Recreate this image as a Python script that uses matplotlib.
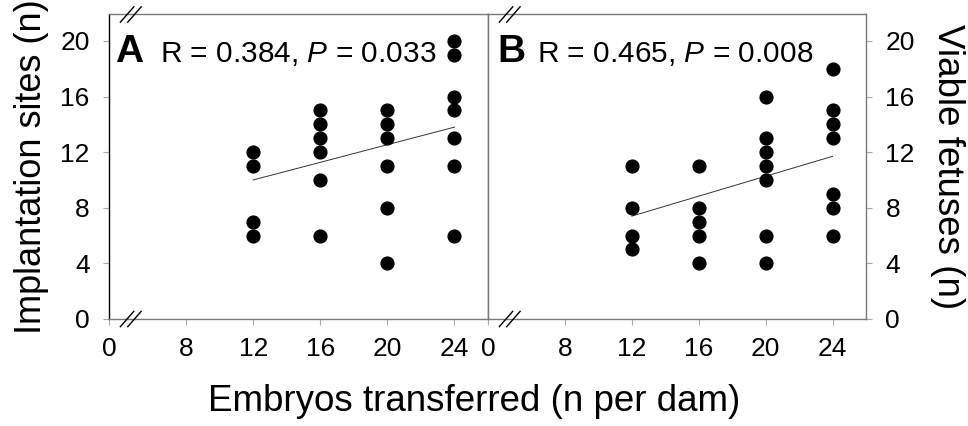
import numpy as np
import matplotlib.pyplot as plt

plt.rcParams['font.family'] = ['Liberation Sans', 'DejaVu Sans']
plt.rcParams['mathtext.fontset'] = 'custom'
plt.rcParams['mathtext.rm'] = 'Liberation Sans'
plt.rcParams['mathtext.it'] = 'Liberation Sans:italic'

# embryos transferred per dam and outcome counts per dam
implant_x = [12, 12, 12, 12, 16, 16, 16, 16, 16, 16, 20, 20, 20, 20, 20, 20,
             24, 24, 24, 24, 24, 24, 24]
implant_n = [12, 11, 7, 6, 15, 14, 13, 12, 10, 6, 15, 14, 13, 11, 8, 4,
             20, 19, 16, 15, 13, 11, 6]

viable_x = [12, 12, 12, 12, 16, 16, 16, 16, 16, 20, 20, 20, 20, 20, 20, 20,
            24, 24, 24, 24, 24, 24, 24]
viable_n = [11, 8, 6, 5, 11, 8, 7, 6, 4, 16, 13, 12, 11, 10, 6, 4,
            18, 15, 14, 13, 9, 8, 6]

# regression lines
fit_x = [12, 24]
implant_fit = [10.0, 13.8]
viable_fit = [7.4, 11.7]

stats = [('A', 'R = 0.384, $P$ = 0.033'), ('B', 'R = 0.465, $P$ = 0.008')]

# broken x axis: "0" is drawn just left of the break
x_zero = 3.4
x_break = 4.7
xticks = [x_zero, 8, 12, 16, 20, 24]
xtick_labels = ['0', '8', '12', '16', '20', '24']
yticks = [0, 4, 8, 12, 16, 20]
xlim = (x_zero, 26)
ylim = (0, 21.9)

frame = '#777777'


def draw_break(ax, xb, yb):
    for off in (-0.22, 0.22):
        ax.plot([xb + off - 0.4, xb + off + 0.4], [yb - 0.55, yb + 0.55],
                color='black', lw=1.0, clip_on=False, zorder=5)


fig = plt.figure(figsize=(9.68, 4.26), dpi=100)
ax_a = fig.add_axes([0.1126, 0.2512, 0.3915, 0.7148])
ax_b = fig.add_axes([0.5041, 0.2512, 0.3905, 0.7148])

panels = [(ax_a, implant_x, implant_n, implant_fit),
          (ax_b, viable_x, viable_n, viable_fit)]

for i, (ax, xs, ys, fit) in enumerate(panels):
    ax.plot(xs, ys, 'o', color='black', markersize=9.2, zorder=3)
    ax.plot(fit_x, fit, color='#333333', lw=0.7, zorder=2)

    ax.set_xlim(*xlim)
    ax.set_ylim(*ylim)
    ax.set_xticks(xticks)
    ax.set_xticklabels(xtick_labels)
    ax.set_yticks(yticks)
    ax.tick_params(axis='both', labelsize=19, length=4, width=0.8,
                   color='#aaaaaa', pad=9)
    ax.tick_params(axis='y', pad=10)
    for sp in ax.spines.values():
        sp.set_color(frame)
        sp.set_linewidth(1.0)

    letter, txt = stats[i]
    lx, rx = (0.016, 0.135) if i == 0 else (0.024, 0.130)
    ax.text(lx, 0.845, letter, transform=ax.transAxes, fontsize=28,
            fontweight='bold', va='baseline', ha='left')
    ax.text(rx, 0.845, txt, transform=ax.transAxes, fontsize=21.5,
            va='baseline', ha='left')

    draw_break(ax, x_break, ylim[0])
    draw_break(ax, x_break, ylim[1])

ax_a.spines['left'].set_color('black')
ax_a.set_ylabel('Implantation sites (n)', fontsize=26, labelpad=8)

ax_b.yaxis.tick_right()
ax_b.yaxis.set_label_position('right')
ax_b.set_ylabel('Viable fetuses (n)', fontsize=26.5, rotation=270,
                labelpad=36)

fig.text(0.49, 0.035, 'Embryos transferred (n per dam)', fontsize=26.5,
         ha='center', va='baseline')

fig.savefig('out.png', dpi=100)
